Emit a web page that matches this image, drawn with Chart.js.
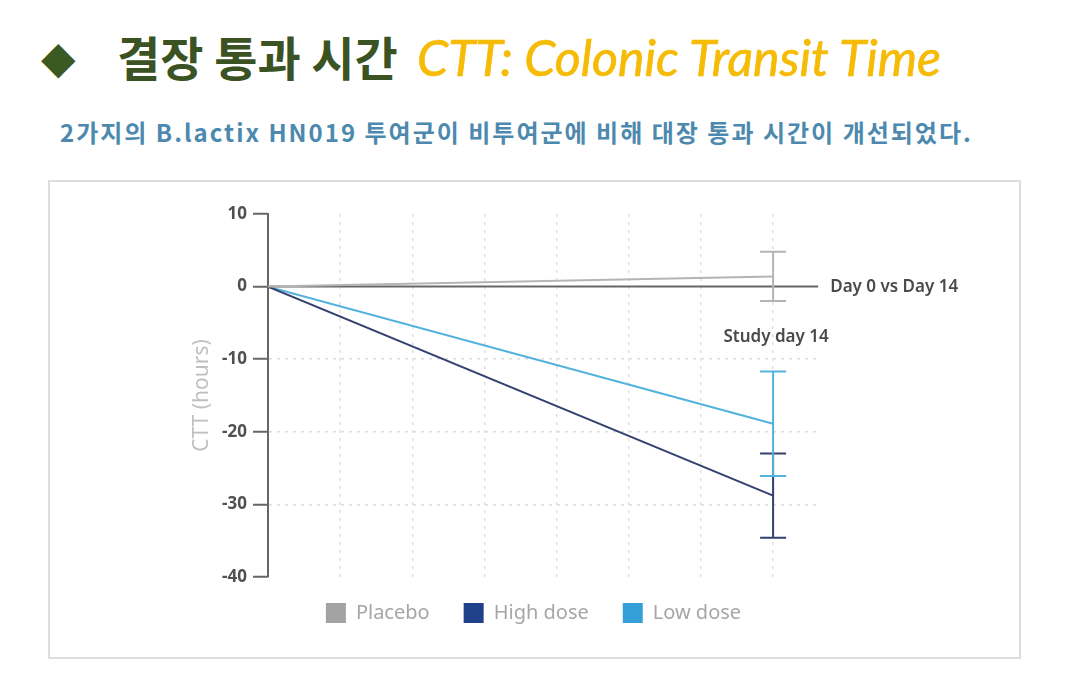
<!DOCTYPE html>
<html>
<head>
<meta charset="utf-8">
<script src="https://cdn.jsdelivr.net/npm/chart.js@4.4.1/dist/chart.umd.min.js"></script>
<style>
html,body{margin:0;padding:0;background:#fff;width:1068px;height:688px;overflow:hidden;}
#head{position:absolute;left:0;top:0;width:1068px;height:170px;}
#diamond{position:absolute;left:41px;top:28px;font-size:45px;line-height:60px;color:#3b5a23;font-family:"DejaVu Sans",sans-serif;}
#ko{position:absolute;left:117px;top:24px;font-size:47px;line-height:64px;font-weight:700;color:#3b5323;font-family:"Noto Sans CJK KR",sans-serif;white-space:nowrap;}
#en{position:absolute;left:417px;top:25px;font-size:50px;line-height:64px;font-style:italic;color:#f6bb06;font-family:Lato,"Noto Sans",sans-serif;white-space:nowrap;-webkit-text-stroke:0.7px #f6bb06;}
#sub{position:absolute;left:60px;top:115px;font-size:24px;line-height:34px;letter-spacing:2px;font-weight:700;color:#4d89ae;font-family:"Noto Sans CJK KR",sans-serif;white-space:nowrap;}
#frame{position:absolute;left:48px;top:180px;width:969px;height:475px;border:2px solid #dedede;}
#c{display:block;}
</style>
</head>
<body>
<div id="head">
  <div id="diamond">◆</div>
  <div id="ko">결장 통과 시간</div>
  <div id="en">CTT: Colonic Transit Time</div>
  <div id="sub">2가지의 B.lactix HN019 투여군이 비투여군에 비해 대장 통과 시간이 개선되었다.</div>
</div>
<div id="frame"><canvas id="c" width="969" height="475"></canvas></div>
<script>
// ---- data ----
const days = [0, 14];
const seriesNames = ['Placebo', 'High dose', 'Low dose'];
const placebo = [0, 1.4];
const placeboErr = [0, 3.4];
const highDose = [0, -28.8];
const highDoseErr = [0, 5.8];
const lowDose = [0, -18.9];
const lowDoseErr = [0, 7.2];
const yTicks = [10, 0, -10, -20, -30, -40];
const xGridDays = [2, 4, 6, 8, 10, 12, 14];
const dottedYLines = [-10, -20, -30];
const annoLine = 'Day 0 vs Day 14';
const annoDay = 'Study day 14';

// ---- styles ----
const lineColors = ['#b4b4b4', '#34416f', '#52b2de'];
const legendColors = ['#a3a3a3', '#1f4189', '#35a0d7'];
const xMax = 15.3;
const zeroLineEnd = 15.25;

function pts(vals){ return days.map((d,i)=>({x:d, y:vals[i]})); }

const errs = [placeboErr, highDoseErr, lowDoseErr];

const errorBarPlugin = {
  id: 'errbars',
  afterLayout(chart){
    // nudge legend into place (centered under the frame, tucked closer to the plot)
    const lg = chart.legend;
    if (lg) {
      lg.left += 29; lg.right += 29;
      lg.top -= 8; lg.bottom -= 8;
    }
  },
  beforeDatasetsDraw(chart){
    const {ctx, scales:{x, y}} = chart;
    ctx.save();
    ctx.strokeStyle = '#666';
    ctx.lineWidth = 2;
    ctx.beginPath();
    ctx.moveTo(x.getPixelForValue(0), y.getPixelForValue(0));
    ctx.lineTo(x.getPixelForValue(zeroLineEnd), y.getPixelForValue(0));
    ctx.stroke();
    ctx.restore();
  },
  afterDatasetsDraw(chart){
    const {ctx, scales:{x, y}} = chart;
    ctx.save();
    chart.data.datasets.forEach((ds, di) => {
      const e = errs[di];
      ds.data.forEach((p, i) => {
        if (!e[i]) return;
        const px = x.getPixelForValue(p.x);
        const top = y.getPixelForValue(p.y + e[i]);
        const bot = y.getPixelForValue(p.y - e[i]);
        ctx.strokeStyle = ds.borderColor;
        ctx.lineWidth = 2;
        ctx.beginPath();
        ctx.moveTo(px, top); ctx.lineTo(px, bot);
        ctx.moveTo(px - 13, top); ctx.lineTo(px + 13, top);
        ctx.moveTo(px - 13, bot); ctx.lineTo(px + 13, bot);
        ctx.stroke();
      });
    });
    // annotations
    ctx.fillStyle = '#4a4a4a';
    ctx.font = '600 17px "Noto Sans", sans-serif';
    ctx.textBaseline = 'middle';
    ctx.textAlign = 'left';
    ctx.fillText(annoLine, x.getPixelForValue(zeroLineEnd) + 12, y.getPixelForValue(0) + 1);
    ctx.textAlign = 'center';
    ctx.fillText(annoDay, x.getPixelForValue(14) + 3, y.getPixelForValue(-7.0));
    ctx.restore();
  }
};

new Chart(document.getElementById('c'), {
  type: 'line',
  data: {
    datasets: [
      {label: seriesNames[0], data: pts(placebo), borderColor: lineColors[0], backgroundColor: legendColors[0]},
      {label: seriesNames[1], data: pts(highDose), borderColor: lineColors[1], backgroundColor: legendColors[1]},
      {label: seriesNames[2], data: pts(lowDose), borderColor: lineColors[2], backgroundColor: legendColors[2]}
    ]
  },
  options: {
    responsive: false,
    animation: false,
    devicePixelRatio: 1,
    elements: {line: {borderWidth: 2, tension: 0}, point: {radius: 0, hoverRadius: 0}},
    layout: {padding: {left: 139, right: 199, top: 32, bottom: 16}},
    plugins: {
      tooltip: {enabled: false},
      legend: {
        position: 'bottom',
        labels: {
          boxWidth: 20, boxHeight: 20, padding: 34,
          color: '#a6a6a6',
          font: {family: '"Noto Sans", sans-serif', size: 20},
          generateLabels(chart){
            return chart.data.datasets.map((ds, i) => ({
              text: ds.label, fillStyle: legendColors[i], strokeStyle: legendColors[i],
              lineWidth: 0, hidden: false, datasetIndex: i, fontColor: '#a6a6a6'
            }));
          }
        }
      }
    },
    scales: {
      x: {
        type: 'linear', min: 0, max: xMax,
        ticks: {display: false, stepSize: 2},
        grid: {
          drawTicks: false, lineWidth: 1.5,
          color: c => xGridDays.includes(c.tick && c.tick.value) ? '#e0e0e0' : 'rgba(0,0,0,0)'
        },
        border: {display: false, dash: [3, 5]},
        afterFit(s){ s.height = 0; }
      },
      y: {
        type: 'linear', min: -40, max: 10,
        afterBuildTicks(s){ s.ticks = yTicks.map(v => ({value: v})); },
        ticks: {
          color: '#505050', padding: 6,
          font: {family: '"Noto Sans", sans-serif', size: 17, weight: '700'}
        },
        grid: {
          lineWidth: 1.5, tickLength: 15, tickWidth: 2, tickColor: '#666',
          color: c => dottedYLines.includes(c.tick && c.tick.value) ? '#dcdcdc' : 'rgba(0,0,0,0)'
        },
        border: {display: true, color: '#666', width: 2, dash: [3, 5]},
        title: {
          display: true, text: 'CTT (hours)', color: '#c0c0c0',
          font: {family: '"Noto Sans", sans-serif', size: 21},
          padding: {top: 0, bottom: 0}
        },
        afterFit(s){ s.width = 79; }
      }
    }
  },
  plugins: [errorBarPlugin]
});
</script>
</body>
</html>
